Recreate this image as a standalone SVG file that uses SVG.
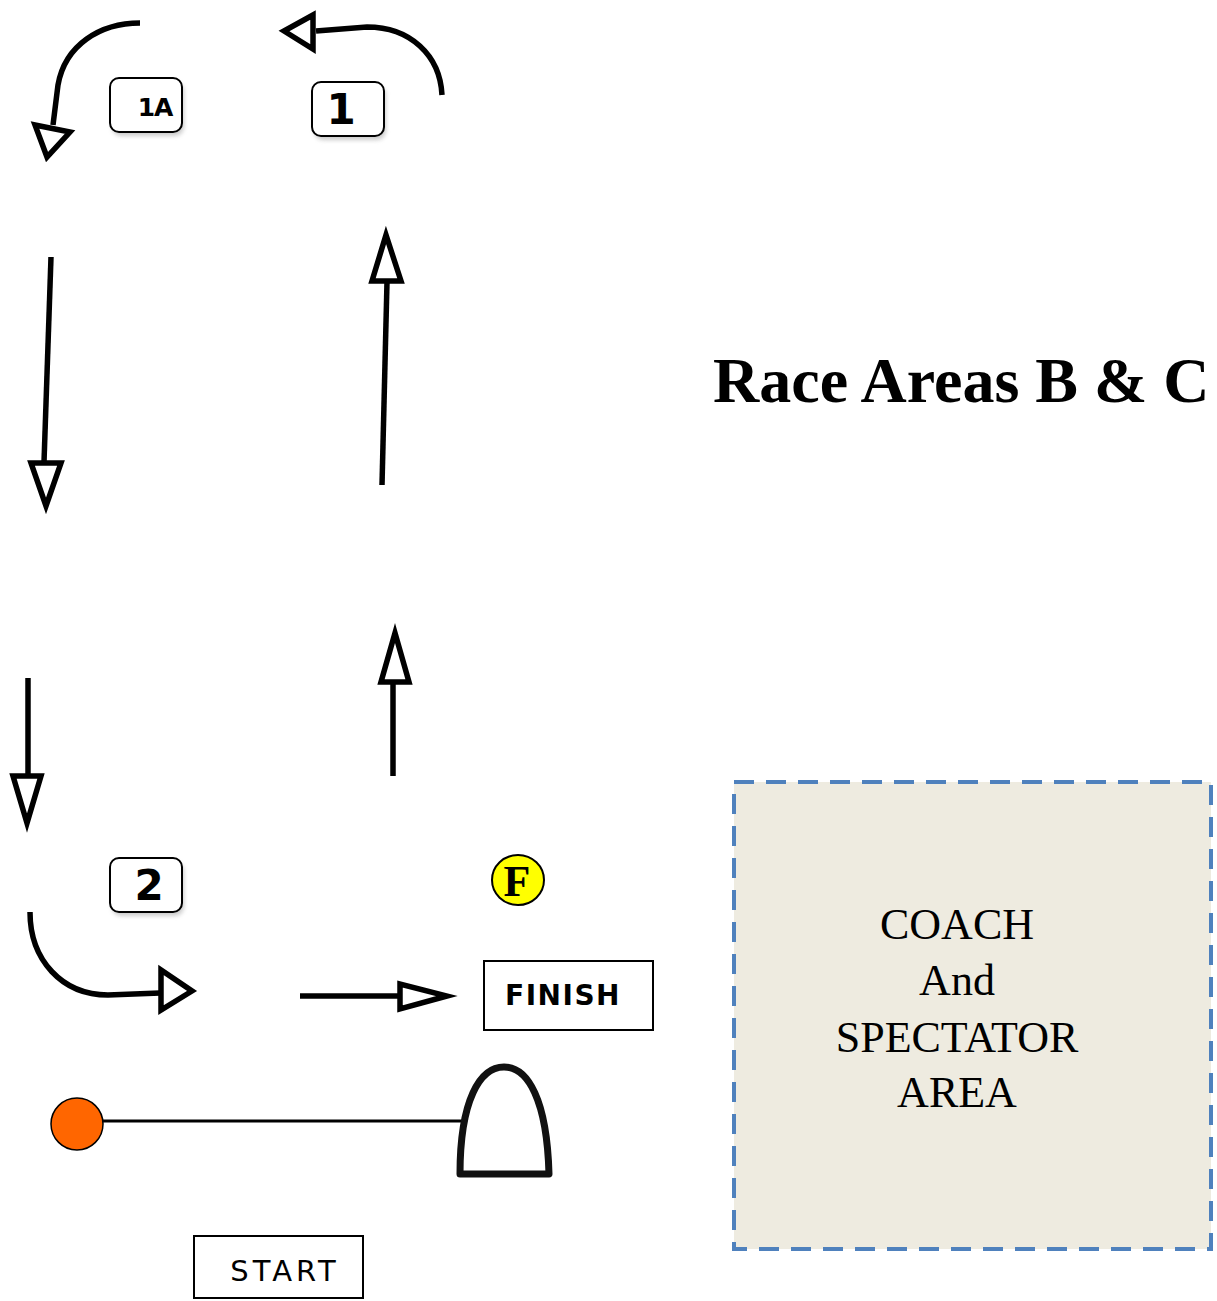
<svg xmlns="http://www.w3.org/2000/svg" width="1217" height="1301" viewBox="0 0 1217 1301">
<defs>
<style>
.ln{fill:none;stroke:#000;stroke-width:5.5}
.hd{fill:#fff;stroke:#000;stroke-width:5.5;stroke-linejoin:miter}
.card{fill:#fff;stroke:#000;stroke-width:2}
.cardtxt{font-family:"DejaVu Sans",Verdana,sans-serif;font-weight:bold;text-anchor:middle;fill:#000}
.box{fill:#fff;stroke:#000;stroke-width:2}
.coach{font-family:"Liberation Serif","Times New Roman",serif;font-size:44px;text-anchor:middle;fill:#000}
</style>
<filter id="sh" x="-20%" y="-20%" width="140%" height="150%">
<feGaussianBlur stdDeviation="2"/>
</filter>
</defs>
<rect width="1217" height="1301" fill="#fff"/>

<g id="connectors">
<path class="ln" d="M51,257 L44,462"/>
<polygon class="hd" points="31,463 61,463 46,506"/>
<path class="ln" d="M382,485 L387,282"/>
<polygon class="hd" points="372,281 401,281 386,235"/>
<path class="ln" d="M28,678 L28,776"/>
<polygon class="hd" points="13,776 41,776 27,823"/>
<path class="ln" d="M393,776 L393,682"/>
<polygon class="hd" points="381,682 409,682 395,633"/>
<path class="ln" d="M140,23 C100,23 65,45 58,85 L53,125"/>
<polygon class="hd" points="35,125 70,132 47,157"/>
<path class="ln" d="M442,95 C440,55 410,27 367,27 L316,31"/>
<polygon class="hd" points="284,31 313,15 313,49"/>
<path class="ln" d="M30,912 C30,960 62,995 108,995 L160,993"/>
<polygon class="hd" points="161,970 161,1010 192,991"/>
<path class="ln" d="M300,996 L400,996"/>
<polygon class="hd" points="400,984 400,1009 447,996"/>
<line x1="100" y1="1121" x2="462" y2="1121" stroke="#000" stroke-width="3"/>
</g>

<g id="title">
<text x="713" y="402" font-family="Liberation Serif,'Times New Roman',serif" font-weight="bold" font-size="64">Race Areas B &amp; C</text>
</g>

<g id="mark-1A">
<rect x="112" y="82" width="72" height="54" rx="9" fill="#999" opacity="0.5" filter="url(#sh)"/>
<rect class="card" x="110" y="78" width="72" height="54" rx="9"/>
<text class="cardtxt" x="155" y="116" font-size="25" letter-spacing="-1">1A</text>
</g>
<g id="mark-1">
<rect x="314" y="86" width="72" height="54" rx="9" fill="#999" opacity="0.5" filter="url(#sh)"/>
<rect class="card" x="312" y="82" width="72" height="54" rx="9"/>
<text class="cardtxt" x="341" y="124" font-size="42">1</text>
</g>
<g id="mark-2">
<rect x="112" y="862" width="72" height="54" rx="9" fill="#999" opacity="0.5" filter="url(#sh)"/>
<rect class="card" x="110" y="858" width="72" height="54" rx="9"/>
<text class="cardtxt" x="149" y="900" font-size="42">2</text>
</g>

<g id="mark-F">
<ellipse cx="518" cy="880" rx="26" ry="25" fill="#FFFF00" stroke="#000" stroke-width="2"/>
<text x="517" y="896" font-family="Liberation Serif,'Times New Roman',serif" font-weight="bold" font-size="44" text-anchor="middle">F</text>
</g>

<g id="finish">
<rect class="box" x="484" y="961" width="169" height="69"/>
<text x="563" y="1005" font-family="'DejaVu Sans',sans-serif" font-weight="bold" font-size="28" text-anchor="middle" letter-spacing="1.5">FINISH</text>
</g>

<g id="start">
<rect class="box" x="194" y="1236" width="169" height="62"/>
<text x="285" y="1281" font-family="'DejaVu Sans',sans-serif" font-size="29" text-anchor="middle" letter-spacing="4">START</text>
</g>

<g id="pin-buoy">
<circle cx="77" cy="1124" r="26" fill="#FF6600" stroke="#000" stroke-width="1.5"/>
</g>

<g id="start-boat">
<path d="M460,1174 C460,1100 480,1067 504,1067 C528,1067 547,1100 549,1174 Z" fill="#fff" stroke="#111" stroke-width="7" stroke-linejoin="round"/>
</g>

<g id="coach-area">
<rect x="734" y="782" width="477" height="467" fill="#EEEBE0" stroke="#4F81BD" stroke-width="4" stroke-dasharray="20 12"/>
<text class="coach" x="957" y="939">COACH</text>
<text class="coach" x="957" y="995">And</text>
<text class="coach" x="957" y="1052">SPECTATOR</text>
<text class="coach" x="957" y="1107">AREA</text>
</g>
</svg>
